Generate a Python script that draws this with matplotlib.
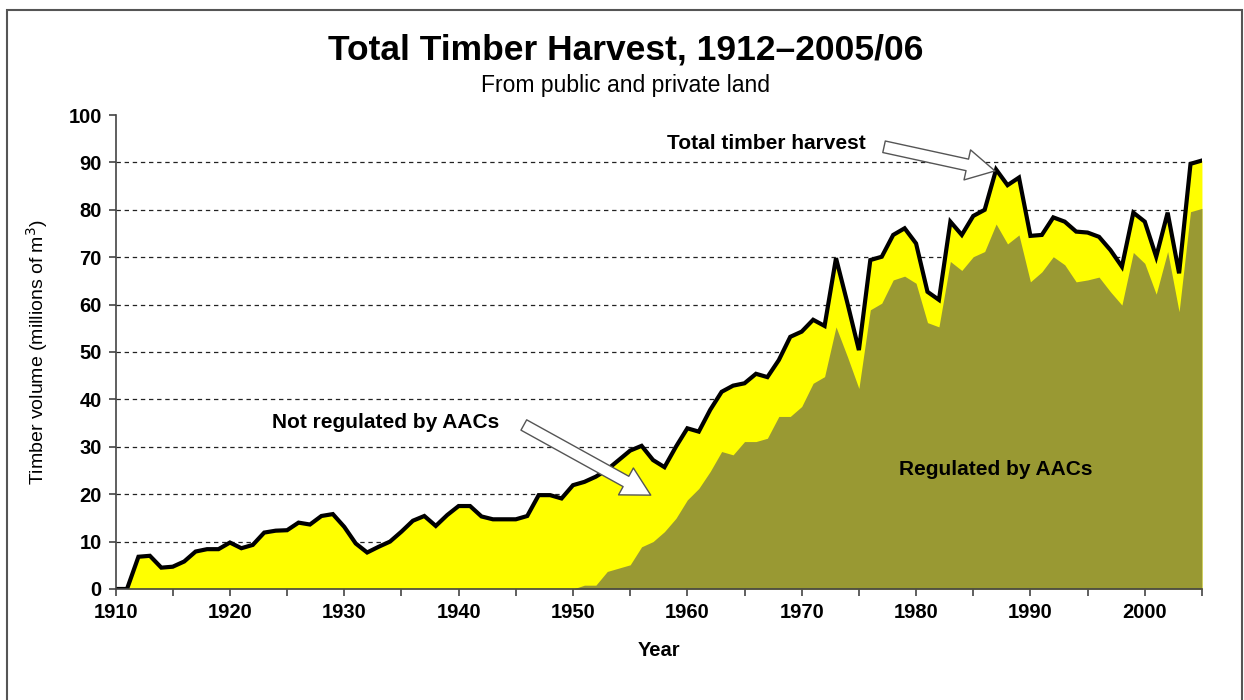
import numpy as np
import matplotlib
matplotlib.use("Agg")
import matplotlib.pyplot as plt
from matplotlib.patches import Rectangle

plt.rcParams['font.family'] = ['Liberation Sans', 'DejaVu Sans']

# annual harvest, millions of m3
years = list(range(1910, 2006))
total = [0, 0, 6.8, 7.0, 4.5, 4.7, 5.8, 7.9, 8.4, 8.4,
         9.8, 8.6, 9.3, 11.9, 12.3, 12.4, 14.0, 13.6, 15.4, 15.8,
         13.1, 9.6, 7.7, 8.9, 10.0, 12.1, 14.4, 15.4, 13.3, 15.6,
         17.5, 17.5, 15.3, 14.7, 14.7, 14.7, 15.4, 19.8, 19.8, 19.1,
         21.9, 22.6, 23.7, 25.2, 27.2, 29.2, 30.2, 27.2, 25.7, 30.0,
         33.9, 33.2, 37.8, 41.6, 42.9, 43.4, 45.4, 44.7, 48.3, 53.2,
         54.3, 56.8, 55.5, 69.8, 60.3, 50.4, 69.4, 70.1, 74.7, 76.1,
         72.9, 62.7, 61.0, 77.5, 74.7, 78.7, 80.0, 88.5, 85.2, 86.8,
         74.5, 74.7, 78.4, 77.5, 75.4, 75.2, 74.3, 71.5, 68.0, 79.4,
         77.5, 70.1, 79.4, 66.6, 89.7, 90.4]
regulated = [0] * 41 + [0.8, 0.8, 3.7, 4.4, 5.1, 8.9, 10.0, 12.1, 14.9,
             18.8, 21.2, 24.8, 29.0, 28.3, 31.1, 31.1, 31.8, 36.4, 36.4,
             38.5, 43.4, 44.8, 55.3, 49.0, 42.3, 58.9, 60.3, 65.2, 66.0,
             64.5, 56.2, 55.3, 69.1, 67.2, 70.1, 71.2, 77.0, 72.8, 74.7,
             64.8, 66.9, 70.1, 68.4, 64.8, 65.2, 65.8, 62.7, 59.9, 71.0,
             68.7, 62.2, 71.2, 58.5, 79.6, 80.3]

yellow = '#FFFF00'
olive = '#999933'

fig = plt.figure(figsize=(12.44, 7.0), dpi=100)
ax = fig.add_axes([0.0929, 0.1586, 0.8733, 0.6771])

# outer frame of the chart
fig.patches.append(Rectangle((7 / 1244, -0.1), 1235 / 1244, 1.1 - 10 / 700,
                             transform=fig.transFigure, fill=False,
                             ec='#555555', lw=1.5))

ax.fill_between(years, 0, total, color=yellow, lw=0, zorder=2)
ax.fill_between(years, 0, regulated, color=olive, lw=0, zorder=3)
ax.plot(years, total, color='black', lw=3, solid_joinstyle='miter', zorder=4)

ax.set_xlim(1910, 2005)
ax.set_ylim(0, 100)
ax.set_xticks(range(1910, 2006, 5))
ax.set_xticklabels([str(y) if y % 10 == 0 else '' for y in range(1910, 2006, 5)])
ax.set_yticks(range(0, 101, 10))
for v in range(10, 100, 10):
    ax.axhline(v, color='#222222', lw=0.9, ls=(0, (3.5, 3)), zorder=1)

for s in ['top', 'right']:
    ax.spines[s].set_visible(False)
for s in ['left', 'bottom']:
    ax.spines[s].set_color('#444444')
    ax.spines[s].set_linewidth(1.2)
    ax.spines[s].set_zorder(5)
ax.tick_params(direction='out', length=5, width=1.2, color='#444444',
               labelsize=14.5, pad=5)
for lab in ax.get_xticklabels() + ax.get_yticklabels():
    lab.set_fontweight('bold')

ax.set_xlabel('Year', fontsize=14.5, fontweight='bold', labelpad=14)
ax.set_ylabel('Timber volume (millions of m$^3$)', fontsize=14, labelpad=13)

fig.text(0.503, 0.929, 'Total Timber Harvest, 1912\u20132005/06', ha='center',
         va='center', fontsize=25.5, fontweight='bold')
fig.text(0.503, 0.878, 'From public and private land', ha='center',
         va='center', fontsize=16.5)

arrow = dict(arrowstyle='simple,head_length=1.2,head_width=1.3,tail_width=0.5',
             fc='white', ec='#555555', lw=1, shrinkA=0, shrinkB=0)
ax.text(1958.2, 93.9, 'Total timber harvest', fontsize=15,
        fontweight='bold', va='center', ha='left', zorder=6)
ax.annotate('', xy=(1986.9, 88.2), xytext=(1977.2, 93.3),
            arrowprops=dict(arrow, mutation_scale=17), zorder=6)
ax.text(1923.7, 35.2, 'Not regulated by AACs', fontsize=15,
        fontweight='bold', va='center', ha='left', zorder=6)
ax.annotate('', xy=(1956.8, 19.8), xytext=(1945.7, 34.6),
            arrowprops=dict(arrow, mutation_scale=17), zorder=6)
ax.text(1978.5, 25.3, 'Regulated by AACs', fontsize=15,
        fontweight='bold', va='center', ha='left', zorder=6)

fig.savefig('out.png', dpi=100)
